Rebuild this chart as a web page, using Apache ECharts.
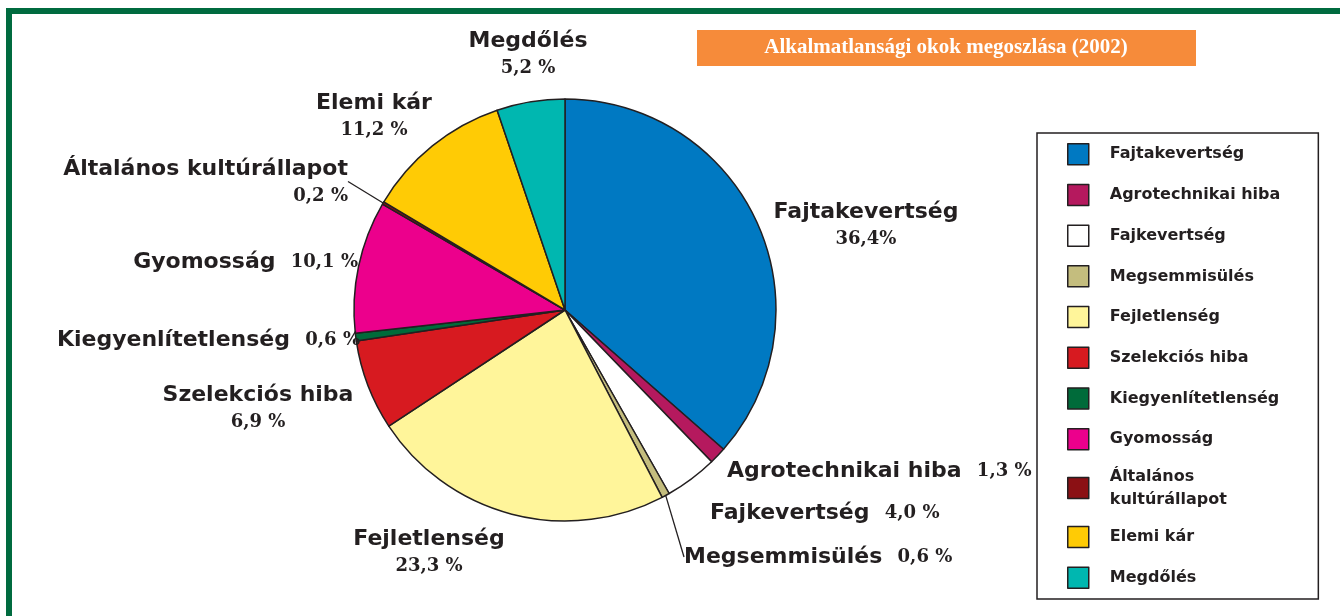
<!DOCTYPE html>
<html>
<head>
<meta charset="utf-8">
<title>Alkalmatlansági okok megoszlása (2002)</title>
<script src="https://cdn.jsdelivr.net/npm/echarts@6/dist/echarts.min.js"></script>
<style>
  html, body { margin: 0; padding: 0; background: #fff; }
  #chart { width: 1340px; height: 616px; }
</style>
</head>
<body>
<div id="chart"></div>
<script>
// data (percent)
const categories = ['Fajtakevertség', 'Agrotechnikai hiba', 'Fajkevertség', 'Megsemmisülés', 'Fejletlenség',
  'Szelekciós hiba', 'Kiegyenlítetlenség', 'Gyomosság', 'Általános kultúrállapot', 'Elemi kár', 'Megdőlés']
const shares = [36.4, 1.3, 4.0, 0.6, 23.3, 6.9, 0.6, 10.1, 0.2, 11.2, 5.2]
const colors = ['#0079C2', '#B5195E', '#FFFFFF', '#C4BD7E', '#FFF59A', '#D71A20',
  '#006B3A', '#EC008C', '#8B1014', '#FFCB05', '#00B7B0']

// label placement (which labels sit on one line, which get a leader line, where they go)
const inlineLabels = [1, 2, 3, 6, 7]
const leaderLines = [3, 8]
const labelSpots = [
  { x: 866, y: 225, align: 'center' },
  { x: 727, y: 471, align: 'left' },
  { x: 710, y: 513, align: 'left' },
  { x: 684, y: 557, align: 'left' },
  { x: 429, y: 552, align: 'center' },
  { x: 258, y: 408, align: 'center' },
  { x: 360, y: 340, align: 'right' },
  { x: 358, y: 262, align: 'right' },
  { x: 348, y: 182, align: 'right' },
  { x: 374, y: 116, align: 'center' },
  { x: 528, y: 54, align: 'center' }
]

const ink = '#231F20'
const sans = '"DejaVu Sans", sans-serif'

function pct(v, i) {
  return v.toFixed(1).replace('.', ',') + (i === 0 ? '%' : ' %')
}

const legendText = {
  color: ink, fontFamily: sans, fontWeight: 'bold', fontSize: 16, padding: [0, 0, 0, 16]
}

const chart = echarts.init(document.getElementById('chart'))

chart.setOption({
  animation: false,
  graphic: [
    {
      type: 'polyline',
      z: 0,
      shape: { points: [[9, 616], [9, 11], [1340, 11]] },
      style: { stroke: '#006B3F', lineWidth: 6, fill: null }
    },
    {
      type: 'rect',
      z: 0,
      shape: { x: 697, y: 30, width: 499, height: 36 },
      style: { fill: '#F68B3A' }
    }
  ],
  title: {
    text: 'Alkalmatlansági okok megoszlása (2002)',
    left: 946,
    top: 37,
    textAlign: 'center',
    padding: 0,
    textStyle: {
      color: '#fff',
      fontFamily: '"Liberation Serif", serif',
      fontWeight: 'bold',
      fontSize: 21
    }
  },
  legend: {
    orient: 'vertical',
    left: 1037,
    top: 133,
    padding: [10, 38, 10, 30],
    borderColor: ink,
    borderWidth: 1.5,
    itemWidth: 21,
    itemHeight: 21,
    itemGap: 18.2,
    icon: 'rect',
    itemStyle: { borderColor: ink, borderWidth: 1.5 },
    data: categories,
    formatter: name => name.length > 20
      ? '{w|' + name.replace(' ', '\n') + '}'
      : '{t|' + name + '}',
    textStyle: {
      color: ink,
      fontFamily: sans,
      fontWeight: 'bold',
      fontSize: 16,
      rich: {
        t: Object.assign({ lineHeight: 21 }, legendText),
        w: Object.assign({ lineHeight: 23 }, legendText)
      }
    }
  },
  series: [{
    type: 'pie',
    center: [565, 310],
    radius: 211,
    startAngle: 90,
    clockwise: true,
    avoidLabelOverlap: false,
    emphasis: { disabled: true },
    itemStyle: { borderColor: ink, borderWidth: 1.5 },
    label: {
      show: true,
      position: 'outside',
      color: ink,
      fontFamily: sans,
      fontWeight: 'bold',
      fontSize: 22,
      formatter: p => {
        const name = '{n|' + p.name + '}'
        const val = '{v|' + pct(p.value, p.dataIndex) + '}'
        return inlineLabels.includes(p.dataIndex) ? name + '  ' + val : name + '\n' + val
      },
      rich: {
        n: { color: ink, fontFamily: sans, fontWeight: 'bold', fontSize: 22, lineHeight: 28 },
        v: { color: ink, fontFamily: '"DejaVu Serif", serif', fontWeight: 'bold', fontSize: 18, lineHeight: 26 }
      }
    },
    labelLine: { show: false },
    labelLayout: p => ({
      x: labelSpots[p.dataIndex].x,
      y: labelSpots[p.dataIndex].y,
      align: labelSpots[p.dataIndex].align,
      verticalAlign: 'middle'
    }),
    data: categories.map((name, i) => ({
      name,
      value: shares[i],
      itemStyle: { color: colors[i] },
      labelLine: leaderLines.includes(i)
        ? { show: true, length: 10, length2: 0, lineStyle: { color: ink, width: 1.3 } }
        : { show: false }
    }))
  }]
})
</script>
</body>
</html>
